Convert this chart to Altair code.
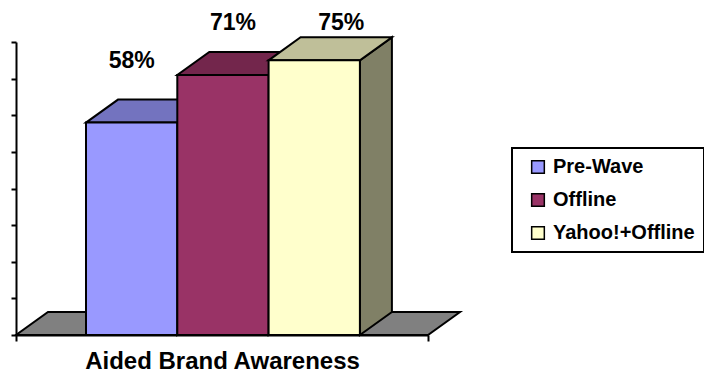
import altair as alt
import pandas as pd

# ---- data ----
categories = ["Aided Brand Awareness"]
series = ["Pre-Wave", "Offline", "Yahoo!+Offline"]
values = [58, 71, 75]
label_texts = ["58%", "71%", "75%"]

# ---- style / geometry ----
FONT = "Liberation Sans"
front_colors = ["#9999FF", "#993366", "#FFFFCC"]
top_colors = ["#7373BF", "#73264C", "#BFBF99"]
side_colors = ["#4D4D80", "#4D1A33", "#808066"]
floor_color = "#808080"
AXIS_W = 412.0          # category axis length (x units = px)
BAR_START = 70.0
BAR_W = 91.3
DX = 32.0               # depth offset in x units
YMAX = 80.0
PLOT_H = 293.0
DY = 23.0 * YMAX / PLOT_H   # depth offset in y units
label_dx = [0, 10, 27]
label_dy = [-55, -45, -30]

rows_front, rows_top, rows_side, rows_lab = [], [], [], []
for i, (s, v) in enumerate(zip(series, values)):
    x0 = BAR_START + i * BAR_W
    x1 = x0 + BAR_W
    rows_front.append({"series": s, "x0": x0, "x1": x1, "lo": 0.0, "hi": v})
    for x, lo, hi in [(x0, v, v), (x0 + DX, v, v + DY), (x1, v, v + DY), (x1 + DX, v + DY, v + DY)]:
        rows_top.append({"series": s, "x": x, "lo": lo, "hi": hi, "fill": top_colors[i]})
    for x, lo, hi in [(x1, 0.0, v), (x1 + DX, DY, v + DY)]:
        rows_side.append({"series": s, "x": x, "lo": lo, "hi": hi, "fill": side_colors[i]})
    rows_lab.append({"series": s, "x": (x0 + x1) / 2, "v": v, "label": label_texts[i]})

floor = pd.DataFrame([
    {"x": 0.0, "lo": 0.0, "hi": 0.0},
    {"x": DX, "lo": 0.0, "hi": DY},
    {"x": AXIS_W, "lo": 0.0, "hi": DY},
    {"x": AXIS_W + DX, "lo": DY, "hi": DY},
])
front = pd.DataFrame(rows_front)
top = pd.DataFrame(rows_top)
side = pd.DataFrame(rows_side)
labs = pd.DataFrame(rows_lab)

xscale = alt.Scale(domain=[0, AXIS_W], nice=False, zero=False)
yscale = alt.Scale(domain=[0, YMAX], nice=False)
xaxis = alt.Axis(values=[0, AXIS_W], labels=False, grid=False, title=categories[0],
                 domainColor="black", domainWidth=2, tickColor="black", tickWidth=2,
                 tickSize=6, titleFont=FONT, titleFontSize=24, titleFontWeight="bold",
                 titleColor="black", titlePadding=7)
yaxis = alt.Axis(values=list(range(0, 81, 10)), labels=False, grid=False, title=None,
                 domainColor="black", domainWidth=2, tickColor="black", tickWidth=2,
                 tickSize=5)

def X(f):
    return alt.X(f, type="quantitative", scale=xscale, axis=xaxis)

def Y(f):
    return alt.Y(f, type="quantitative", scale=yscale, axis=yaxis, stack=None)

floor_l = alt.Chart(floor).mark_area(fill=floor_color, stroke="black", strokeWidth=2,
                                     strokeJoin="miter").encode(
    x=X("x"), y=Y("lo"), y2="hi")

side_l = alt.Chart(side).mark_area(stroke="black", strokeWidth=2, strokeJoin="miter").encode(
    x=X("x"), y=Y("lo"), y2="hi", detail="series:N",
    fill=alt.Fill("fill:N", scale=None))

top_l = alt.Chart(top).mark_area(stroke="black", strokeWidth=2, strokeJoin="miter").encode(
    x=X("x"), y=Y("lo"), y2="hi", detail="series:N",
    fill=alt.Fill("fill:N", scale=None))

front_l = alt.Chart(front).mark_rect(stroke="black", strokeWidth=2).encode(
    x=X("x0"), x2="x1", y=Y("lo"), y2="hi",
    color=alt.Color("series:N", scale=alt.Scale(domain=series, range=front_colors),
                    legend=alt.Legend(title=None, orient="none", legendX=496, legendY=106,
                                      strokeColor="black", padding=9, rowPadding=13,
                                      symbolType="square", symbolSize=160,
                                      symbolStrokeColor="black", symbolStrokeWidth=1.5,
                                      symbolOffset=7, labelOffset=5,
                                      labelFont=FONT, labelFontSize=20,
                                      labelFontWeight="bold", labelColor="black",
                                      labelLimit=300)))

text_layers = []
for i, s in enumerate(series):
    text_layers.append(
        alt.Chart(labs).transform_filter(alt.datum.series == s).mark_text(
            font=FONT, fontSize=23, fontWeight="bold", color="black",
            align="center", baseline="alphabetic", dx=label_dx[i], dy=label_dy[i]
        ).encode(x=X("x"), y=Y("v"), text="label:N")
    )

chart = alt.layer(floor_l, side_l, top_l, front_l, *text_layers).properties(
    width=AXIS_W, height=PLOT_H,
    autosize=alt.AutoSizeParams(type="none"),
    padding={"left": 16, "top": 42, "right": 276, "bottom": 37},
).configure_view(stroke=None).configure_legend(strokeWidth=2)

chart.save("out.html", embed_options={"renderer": "svg", "actions": False})
